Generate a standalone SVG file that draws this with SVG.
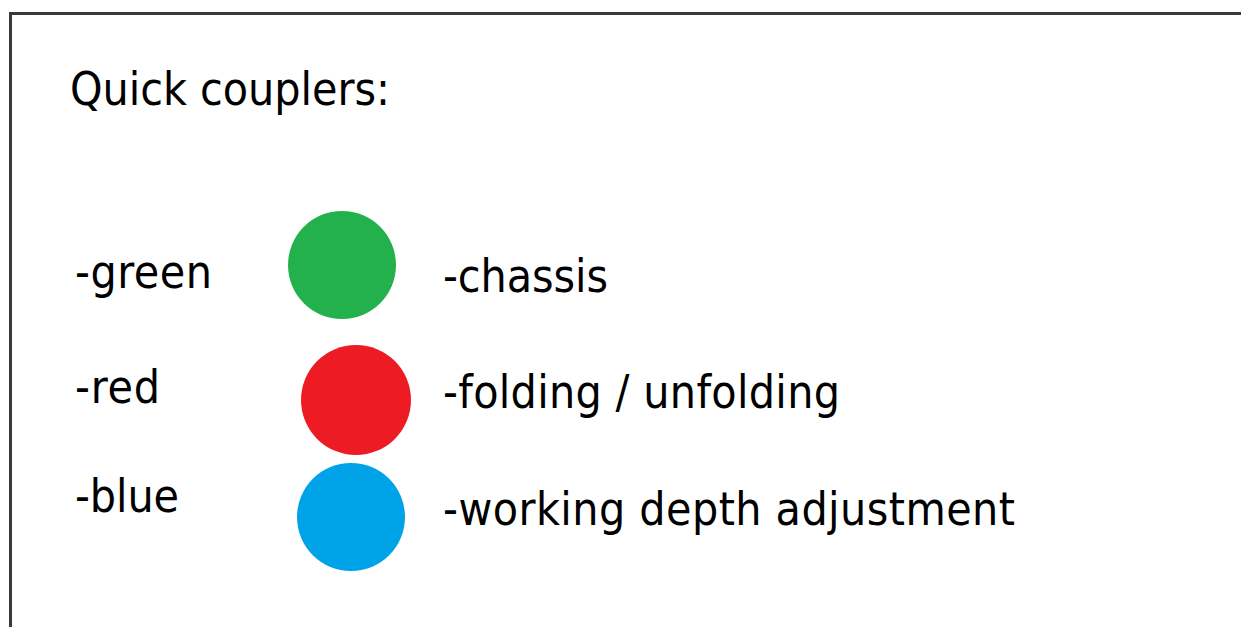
<svg xmlns="http://www.w3.org/2000/svg" width="1241" height="627" viewBox="0 0 1241 627">
<style>
.t{font-family:"DejaVu Sans Condensed","DejaVu Sans",sans-serif;font-size:46px;fill:#000}
.frame{fill:none;stroke:#3a3a3a;stroke-width:3}
</style>
<rect x="0" y="0" width="1241" height="627" fill="#fff"/>
<path class="frame" d="M10.5,627 V13.5 H1241"/>
<g id="title"><text class="t" x="70" y="105" textLength="320">Quick couplers:</text></g>
<g id="green">
<text class="t" x="75" y="288" textLength="137">-green</text>
<circle cx="342" cy="265" r="54" fill="#22B14C"/>
<text class="t" x="443" y="292" textLength="165">-chassis</text>
</g>
<g id="red">
<text class="t" x="75" y="403" textLength="85">-red</text>
<circle cx="356" cy="400" r="55" fill="#ED1C24"/>
<text class="t" x="443" y="408" textLength="397">-folding / unfolding</text>
</g>
<g id="blue">
<text class="t" x="75" y="512" textLength="104">-blue</text>
<circle cx="351" cy="517" r="54" fill="#00A2E8"/>
<text class="t" x="443" y="525" textLength="572">-working depth adjustment</text>
</g>
<g id="connectors"/>
</svg>
